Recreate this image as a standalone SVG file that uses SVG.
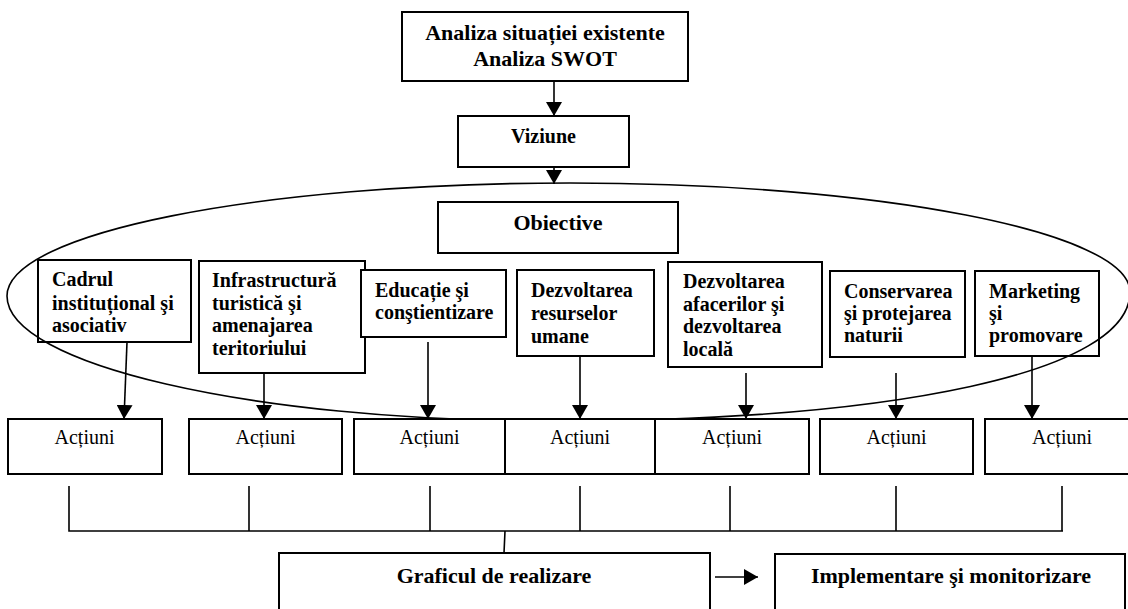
<svg xmlns="http://www.w3.org/2000/svg" width="1128" height="609" viewBox="0 0 1128 609">
<defs>
<style>
.box{fill:#fff;stroke:#000;stroke-width:2}
.ln{fill:none;stroke:#000;stroke-width:1.6}
.b22{font-family:"Liberation Serif","Times New Roman",serif;font-weight:bold;font-size:22px;fill:#000}
.b20{font-family:"Liberation Serif","Times New Roman",serif;font-weight:bold;font-size:20px;fill:#000}
.r20{font-family:"Liberation Serif","Times New Roman",serif;font-size:20px;fill:#000}
</style>
<marker id="ah" viewBox="0 0 14 16" refX="14" refY="8" markerWidth="14" markerHeight="16" markerUnits="userSpaceOnUse" orient="auto">
<path d="M0,0 L14,8 L0,16 z" fill="#000"/>
</marker>
</defs>
<rect width="1128" height="609" fill="#fff"/>

<g id="analiza">
<rect class="box" x="402" y="12" width="286" height="69"/>
<text class="b22" x="545" y="39.5" text-anchor="middle">Analiza situației existente</text>
<text class="b22" x="545" y="66" text-anchor="middle">Analiza SWOT</text>
</g>
<g id="viziune">
<rect class="box" x="458" y="116" width="171" height="51"/>
<text class="b20" x="543.5" y="143" text-anchor="middle">Viziune</text>
</g>
<g id="obiective">
<rect class="box" x="438" y="202" width="240" height="51"/>
<text class="b22" x="558" y="230" text-anchor="middle">Obiective</text>
</g>

<g id="obj-cadrul">
<rect class="box" x="38" y="260" width="153" height="82"/>
<text class="b20" x="52" y="286">Cadrul</text>
<text class="b20" x="52" y="309.5">instituțional şi</text>
<text class="b20" x="52" y="332">asociativ</text>
</g>
<g id="obj-infra">
<rect class="box" x="199" y="261" width="166" height="112"/>
<text class="b20" x="212" y="287">Infrastructură</text>
<text class="b20" x="212" y="309.5">turistică şi</text>
<text class="b20" x="212" y="332">amenajarea</text>
<text class="b20" x="212" y="355">teritoriului</text>
</g>
<g id="obj-educatie">
<rect class="box" x="361" y="270" width="145" height="67"/>
<text class="b20" x="375" y="297">Educație şi</text>
<text class="b20" x="375" y="319">conştientizare</text>
</g>
<g id="obj-resurse">
<rect class="box" x="517" y="270" width="137" height="86"/>
<text class="b20" x="531" y="297">Dezvoltarea</text>
<text class="b20" x="531" y="320">resurselor</text>
<text class="b20" x="531" y="343">umane</text>
</g>
<g id="obj-afaceri">
<rect class="box" x="668" y="262" width="154" height="105"/>
<text class="b20" x="683" y="288">Dezvoltarea</text>
<text class="b20" x="683" y="310.5">afacerilor şi</text>
<text class="b20" x="683" y="333">dezvoltarea</text>
<text class="b20" x="683" y="356">locală</text>
</g>
<g id="obj-conservare">
<rect class="box" x="830" y="271" width="135" height="86"/>
<text class="b20" x="844" y="298">Conservarea</text>
<text class="b20" x="844" y="320">şi protejarea</text>
<text class="b20" x="844" y="342">naturii</text>
</g>
<g id="obj-marketing">
<rect class="box" x="975" y="271" width="124" height="85"/>
<text class="b20" x="989" y="298">Marketing</text>
<text class="b20" x="989" y="320">şi</text>
<text class="b20" x="989" y="342">promovare</text>
</g>

<g id="ellipse">
<path class="ln" d="M7,296 C7,233 259,183 570,183 C879,183 1130,232 1130,292 C1130,372 898,421 550,421 C250,421 7,364 7,296 Z"/>
</g>

<g id="actiuni">
<g id="act1"><rect class="box" x="8" y="419" width="154" height="55"/><text class="r20" x="84.5" y="444" text-anchor="middle">Acțiuni</text></g>
<g id="act2"><rect class="box" x="189" y="419" width="153" height="55"/><text class="r20" x="265.5" y="444" text-anchor="middle">Acțiuni</text></g>
<g id="act3"><rect class="box" x="354" y="419" width="151" height="55"/><text class="r20" x="429.5" y="444" text-anchor="middle">Acțiuni</text></g>
<g id="act4"><rect class="box" x="505" y="419" width="150" height="55"/><text class="r20" x="580" y="444" text-anchor="middle">Acțiuni</text></g>
<g id="act5"><rect class="box" x="655" y="419" width="154" height="55"/><text class="r20" x="732" y="444" text-anchor="middle">Acțiuni</text></g>
<g id="act6"><rect class="box" x="820" y="419" width="153" height="55"/><text class="r20" x="896.5" y="444" text-anchor="middle">Acțiuni</text></g>
<g id="act7"><rect class="box" x="985" y="419" width="154" height="55"/><text class="r20" x="1062" y="444" text-anchor="middle">Acțiuni</text></g>
</g>

<g id="grafic">
<path class="box" d="M279,612 L279,553 L710,553 L710,612"/>
<text class="b22" x="494" y="583" text-anchor="middle">Graficul de realizare</text>
</g>
<g id="implementare">
<path class="box" d="M775,612 L775,554 L1125,554 L1125,612"/>
<text class="b22" x="951" y="583" text-anchor="middle">Implementare şi monitorizare</text>
</g>

<g id="connectors">
<line class="ln" x1="554" y1="81" x2="554" y2="116" marker-end="url(#ah)"/>
<line class="ln" x1="554" y1="167" x2="554" y2="184" marker-end="url(#ah)"/>
<line class="ln" x1="127" y1="342" x2="124" y2="419" marker-end="url(#ah)"/>
<line class="ln" x1="264" y1="373" x2="264" y2="419" marker-end="url(#ah)"/>
<line class="ln" x1="428" y1="342" x2="428" y2="419" marker-end="url(#ah)"/>
<line class="ln" x1="580" y1="356" x2="580" y2="419" marker-end="url(#ah)"/>
<line class="ln" x1="746" y1="373" x2="746" y2="419" marker-end="url(#ah)"/>
<line class="ln" x1="896" y1="373" x2="896" y2="419" marker-end="url(#ah)"/>
<line class="ln" x1="1032" y1="356" x2="1032" y2="419" marker-end="url(#ah)"/>
<path class="ln" d="M69,486 V531 H1063 M249,486 V531 M430,486 V531 M580,486 V531 M730,486 V531 M896,486 V531 M1062,486 V531 M505,531 L504,553"/>
<line class="ln" x1="715" y1="577" x2="758" y2="577" marker-end="url(#ah)"/>
</g>
</svg>
